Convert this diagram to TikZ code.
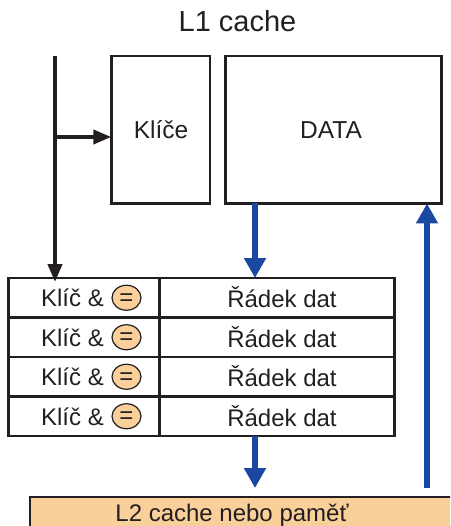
\documentclass[tikz,border=0pt]{standalone}
\usepackage{fontspec}
\setmainfont{Liberation Sans}
\usetikzlibrary{arrows.meta,shapes.geometric}
\definecolor{ink}{HTML}{231F20}
\definecolor{bluearr}{HTML}{1A47A0}
\definecolor{peach}{HTML}{F9CF9A}
\tikzset{
  box/.style={draw=ink, line width=2.8pt, rectangle, inner sep=0pt, outer sep=0pt},
  cell/.style={draw=ink, line width=2.8pt, rectangle, inner sep=0pt, outer sep=0pt, minimum height=39.5pt},
  txt/.style={text=ink, inner sep=0pt, anchor=base},
  eqmark/.style={ellipse, draw=ink, line width=1.2pt, fill=peach, minimum width=29pt, minimum height=25pt, inner sep=0pt, text=ink},
  blackarr/.style={draw=ink, line width=4pt, -{Triangle[length=18pt,width=14pt]}},
  bluearrow/.style={draw=bluearr, line width=5.5pt, -{Triangle[length=20pt,width=21pt]}},
}
\begin{document}
\begin{tikzpicture}[x=1pt,y=-1pt]
\useasboundingbox (0,0) rectangle (450,526);
\clip (0,0) rectangle (450,526);
% title
\node[txt, font=\fontsize{29}{31}\selectfont] (title) at (237.5,32) {L1 cache};
% boxes
\node[box, minimum width=98.7pt, minimum height=147.5pt] (keys) at (160.65,129.75) {};
\node[box, minimum width=215.8pt, minimum height=147.5pt] (data) at (333.4,129.75) {};
\node[txt, font=\fontsize{24.5}{26}\selectfont] (keyst) at (161,139) {Klíče};
\node[txt, font=\fontsize{24.5}{26}\selectfont] (datat) at (331,139) {DATA};
% table
\foreach \i in {1,2,3,4}{
  \pgfmathsetmacro{\yc}{278+39.5*(\i-0.5)}
  \node[cell, minimum width=151pt] (k\i) at (84,\yc) {};
  \node[cell, minimum width=235pt] (r\i) at (277,\yc) {};
  \node[txt, font=\fontsize{24}{26}\selectfont] (kt\i) at (72.5,\yc+9) {Klíč \&};
  \node[eqmark] (eq\i) at (126.5,\yc) {};
  \node[txt, font=\fontsize{24}{24}\selectfont] (eqt\i) at (126.5,\yc+7.5) {=};
  \node[txt, font=\fontsize{24}{26}\selectfont] (rt\i) at (282,\yc+10) {Řádek dat};
}
% L2 box
\node[draw=ink, line width=1.5pt, fill=peach, rectangle, minimum width=440pt, minimum height=60pt, inner sep=0pt, anchor=north west] (l2) at (29.3,496) {};
\node[txt, font=\fontsize{24}{26}\selectfont] (l2t) at (232,521) {L2 cache nebo paměť};
% black arrows
\coordinate (src) at (55,56);
\coordinate (branch) at (55,137);
\draw[blackarr] (src) -- ([yshift=-4pt]src |- k1.north);
\draw[blackarr] (branch) -- (branch -| keys.west);
% blue arrows
\coordinate (d1) at (255,203.5);
\coordinate (d2) at (255,436);
\coordinate (d3) at (255,488);
\coordinate (u1) at (427,488);
\draw[bluearrow] (d1) -- (d1 |- r1.north);
\draw[bluearrow] (d2) -- (d3);
\draw[bluearrow] (u1) -- (u1 |- data.south);
\end{tikzpicture}
\end{document}
